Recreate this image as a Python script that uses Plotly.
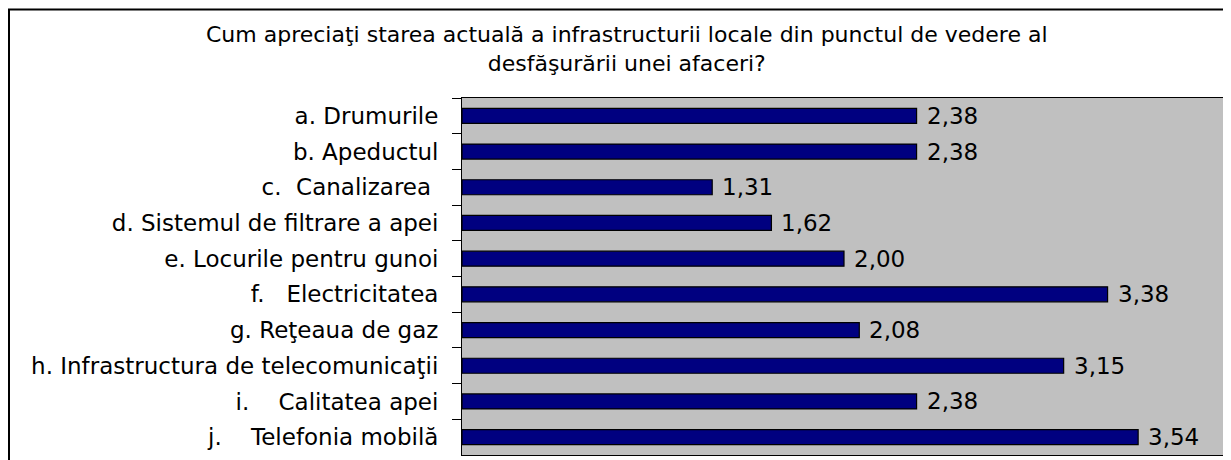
import plotly.graph_objects as go

NB = "\u00a0"
categories = [
    "a. Drumurile",
    "b. Apeductul",
    "c." + NB * 2 + "Canalizarea" + NB,
    "d. Sistemul de filtrare a apei",
    "e. Locurile pentru gunoi",
    "f." + NB * 3 + "Electricitatea",
    "g. Reţeaua de gaz",
    "h. Infrastructura de telecomunicaţii",
    "i." + NB * 4 + "Calitatea apei",
    "j." + NB * 4 + "Telefonia mobilă",
]
values = [2.38, 2.38, 1.31, 1.62, 2.00, 3.38, 2.08, 3.15, 2.38, 3.54]
value_labels = ["2,38", "2,38", "1,31", "1,62", "2,00", "3,38", "2,08", "3,15", "2,38", "3,54"]
title_lines = [
    "Cum apreciaţi starea actuală a infrastructurii locale din punctul de vedere al",
    "desfăşurării unei afaceri?",
]

FONT = "DejaVu Sans"
FS = 23

fig = go.Figure()
fig.add_trace(go.Bar(
    x=values,
    y=categories,
    orientation="h",
    marker=dict(color="#000080", line=dict(color="#000000", width=1.2)),
    hoverinfo="skip",
))

# page has an 8px body margin; figure coordinates are page - 8
W, H = 1223, 452
L, R, T, B = 454, 5, 90, 5
pw, ph = W - L - R, H - T - B

annotations = []
for v, lab, cat in zip(values, value_labels, categories):
    annotations.append(dict(
        x=v, y=cat, xref="x", yref="y", text=lab, showarrow=False,
        xanchor="left", yanchor="middle", xshift=8,
        font=dict(family=FONT, size=FS, color="#000000"),
    ))

title_x = (619 - L) / pw
annotations.append(dict(
    x=title_x, y=(H - B - 40.5) / ph, xref="paper", yref="paper",
    text="<br>".join(title_lines), showarrow=False,
    xanchor="center", yanchor="middle", align="center",
    font=dict(family=FONT, size=22, color="#000000"),
))

fig.update_layout(
    width=W, height=H,
    margin=dict(l=L, r=R, t=T, b=B, pad=0),
    paper_bgcolor="#FFFFFF",
    plot_bgcolor="#C0C0C0",
    bargap=0.58,
    showlegend=False,
    annotations=annotations,
    shapes=[dict(
        type="rect", xref="paper", yref="paper",
        x0=(1 - L) / pw, x1=1.2, y0=-0.2, y1=(H - B - 1.5) / ph,
        line=dict(color="#000000", width=2), fillcolor="rgba(0,0,0,0)",
        layer="above",
    )],
    xaxis=dict(
        range=[0, 4], showticklabels=False, ticks="", showgrid=False,
        zeroline=False, showline=True, linecolor="#000000", linewidth=1,
        mirror=True, fixedrange=True,
    ),
    yaxis=dict(
        autorange="reversed", tickson="boundaries", ticks="outside",
        ticklen=9, tickcolor="#000000", tickwidth=1, showgrid=False,
        showline=True, linecolor="#000000", linewidth=1, mirror=True,
        ticklabelstandoff=18,
        tickfont=dict(family=FONT, size=FS, color="#000000"),
        fixedrange=True,
    ),
)

fig.write_html("out.html")
